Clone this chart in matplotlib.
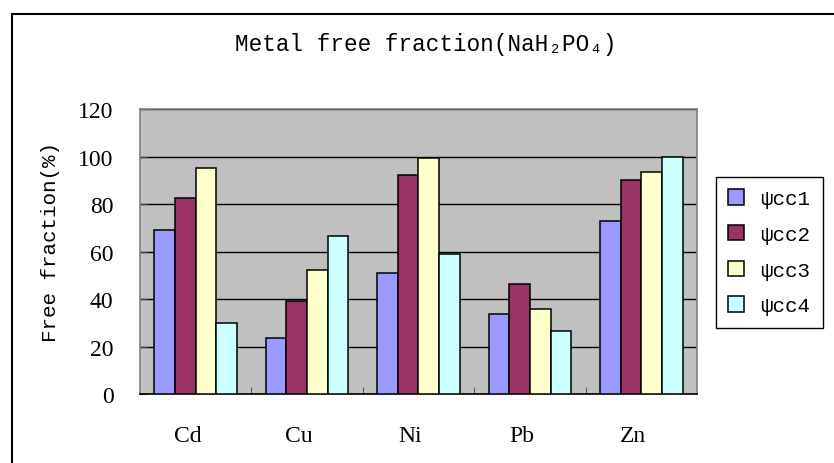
import numpy as np
import matplotlib
matplotlib.use('Agg')
import matplotlib.pyplot as plt
import matplotlib.transforms as mtransforms
from matplotlib.patches import Rectangle

metals = ['Cd', 'Cu', 'Ni', 'Pb', 'Zn']
series = ['\u03c8cc1', '\u03c8cc2', '\u03c8cc3', '\u03c8cc4']
cc1 = [69.3, 23.6, 50.9, 33.8, 73.0]
cc2 = [82.6, 39.2, 92.2, 46.4, 90.2]
cc3 = [95.1, 52.3, 99.5, 36.0, 93.7]
cc4 = [30.1, 66.4, 58.9, 26.5, 100.0]
colors = ['#9999FF', '#993366', '#FFFFCC', '#CCFFFF']

mono = ['Liberation Mono', 'DejaVu Sans']
serif = ['Liberation Serif', 'DejaVu Serif']
plt.rcParams['font.family'] = mono

fig = plt.figure(figsize=(8.34, 4.64), dpi=100)
# outer chart border (only top and left visible in picture)
fig.patches.append(Rectangle((12/834, -0.1), 2.0, 1.1 - 15/464, transform=fig.transFigure,
                             fill=False, edgecolor='black', linewidth=1.5))

ax = fig.add_axes([140/834, 1 - 395.3/464, (697 - 140)/834, (395.3 - 110)/464])
ax.set_facecolor('#C0C0C0')

x = np.arange(len(metals))
w = 0.185
for i, vals in enumerate([cc1, cc2, cc3, cc4]):
    ax.bar(x + (i - 1.5)*w, vals, w, color=colors[i], edgecolor='black',
           linewidth=1.1, label=series[i], zorder=3)

ax.set_xlim(-0.5, 4.5)
ax.set_ylim(0, 120)
ax.set_yticks(range(0, 121, 20))
ax.yaxis.grid(True, color='black', linewidth=1.0, zorder=0)
ax.set_axisbelow(True)
for s in ax.spines.values():
    s.set_color('#808080')
    s.set_linewidth(1.2)
ax.spines['bottom'].set_color('black')
ax.tick_params(axis='y', direction='in', length=5, color='#404040', pad=19)
ax.set_xticks(x)
ax.set_xticklabels(metals)
ax.set_xticks(np.arange(0.5, 4.5, 1), minor=True)
ax.tick_params(axis='x', which='major', length=0, pad=22)
ax.tick_params(axis='x', which='minor', direction='in', length=5, color='#404040')
for t in ax.get_yticklabels():
    t.set_family(serif)
    t.set_fontsize(17)
# category labels sit a bit left of the group centres in the original
shift = mtransforms.ScaledTranslation(-8/100, 0, fig.dpi_scale_trans)
for t in ax.get_xticklabels():
    t.set_family(serif)
    t.set_fontsize(17)
    t.set_transform(t.get_transform() + shift)

fig.text(0.06, 1 - 242.5/464, 'Free fraction(%)', rotation=90, ha='center', va='center', fontsize=15)
fig.text(0.51, 1 - 45/464, 'Metal free fraction(NaH\u2082PO\u2084)', ha='center', va='center', fontsize=16.3)

leg = fig.legend(loc='upper left', bbox_to_anchor=(715.7/834, 1 - 177.7/464), fontsize=15,
                 handlelength=0.75, handleheight=0.75, handletextpad=0.8, labelspacing=0.8,
                 borderpad=0.6, borderaxespad=0, fancybox=False, framealpha=1)
leg.get_frame().set_edgecolor('black')
leg.get_frame().set_linewidth(1.0)

fig.savefig('out.png', dpi=100)
